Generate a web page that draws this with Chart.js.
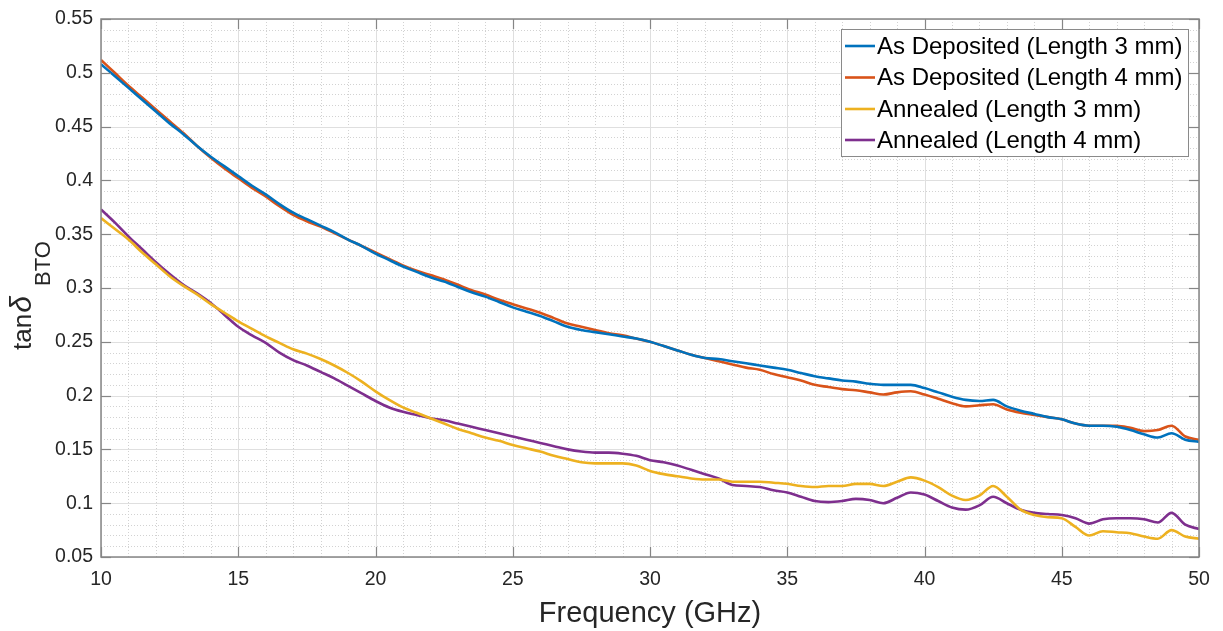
<!DOCTYPE html>
<html>
<head>
<meta charset="utf-8">
<script src="https://cdn.jsdelivr.net/npm/chart.js@4/dist/chart.umd.min.js"></script>
<style>
  html, body { margin: 0; padding: 0; background: #ffffff; }
  #wrap { width: 1223px; height: 631px; }
</style>
</head>
<body>
<div id="wrap"><canvas id="c" width="1223" height="631"></canvas></div>
<script>
// ---------- DATA ----------
const freqGHz = [10,10.5,11,11.5,12,12.5,13,13.5,14,14.5,15,15.5,16,16.5,17,17.5,18,18.5,19,19.5,20,20.5,21,21.5,22,22.5,23,23.5,24,24.5,25,25.5,26,26.5,27,27.5,28,28.5,29,29.5,30,30.5,31,31.5,32,32.5,33,33.5,34,34.5,35,35.5,36,36.5,37,37.5,38,38.5,39,39.5,40,40.5,41,41.5,42,42.5,43,43.5,44,44.5,45,45.5,46,46.5,47,47.5,48,48.5,49,49.5,50];

const asDep3mm = [0.508,0.497,0.486,0.475,0.464,0.453,0.443,0.432,0.422,0.413,0.404,0.395,0.387,0.378,0.370,0.364,0.358,0.352,0.345,0.339,0.332,0.326,0.320,0.315,0.310,0.306,0.301,0.296,0.292,0.287,0.282,0.278,0.274,0.269,0.264,0.261,0.259,0.257,0.255,0.253,0.250,0.246,0.242,0.238,0.235,0.234,0.232,0.230,0.228,0.226,0.224,0.221,0.218,0.216,0.214,0.213,0.211,0.210,0.210,0.210,0.207,0.203,0.199,0.196,0.195,0.196,0.190,0.186,0.183,0.180,0.178,0.174,0.172,0.172,0.171,0.168,0.164,0.161,0.165,0.159,0.157];

const asDep4mm = [0.512,0.500,0.488,0.477,0.466,0.455,0.444,0.432,0.421,0.411,0.402,0.393,0.385,0.376,0.368,0.362,0.357,0.351,0.345,0.339,0.333,0.327,0.321,0.316,0.312,0.308,0.303,0.298,0.294,0.289,0.285,0.281,0.277,0.272,0.267,0.264,0.261,0.258,0.256,0.253,0.250,0.246,0.242,0.238,0.235,0.232,0.229,0.226,0.224,0.220,0.217,0.214,0.210,0.208,0.206,0.205,0.203,0.201,0.203,0.204,0.201,0.197,0.193,0.190,0.191,0.192,0.187,0.184,0.182,0.180,0.178,0.174,0.172,0.172,0.172,0.170,0.167,0.168,0.172,0.162,0.159];

const annealed3mm = [0.365,0.355,0.345,0.333,0.322,0.311,0.302,0.294,0.285,0.277,0.269,0.262,0.255,0.249,0.243,0.239,0.234,0.228,0.221,0.213,0.204,0.196,0.189,0.184,0.179,0.174,0.169,0.165,0.161,0.158,0.154,0.151,0.148,0.144,0.141,0.138,0.137,0.137,0.137,0.135,0.130,0.127,0.125,0.123,0.122,0.122,0.120,0.120,0.120,0.119,0.118,0.116,0.115,0.116,0.116,0.118,0.118,0.116,0.120,0.124,0.121,0.115,0.107,0.103,0.107,0.116,0.106,0.094,0.089,0.087,0.086,0.078,0.070,0.074,0.073,0.072,0.069,0.067,0.075,0.069,0.067];

const annealed4mm = [0.373,0.361,0.348,0.336,0.324,0.313,0.303,0.295,0.286,0.275,0.264,0.256,0.249,0.240,0.233,0.228,0.222,0.216,0.209,0.202,0.195,0.189,0.185,0.182,0.179,0.177,0.174,0.171,0.168,0.165,0.162,0.159,0.156,0.153,0.150,0.148,0.147,0.147,0.146,0.144,0.140,0.138,0.135,0.131,0.127,0.123,0.117,0.116,0.115,0.112,0.110,0.106,0.102,0.101,0.102,0.104,0.103,0.100,0.105,0.110,0.108,0.102,0.096,0.094,0.098,0.106,0.100,0.094,0.091,0.090,0.089,0.086,0.081,0.085,0.086,0.086,0.085,0.082,0.091,0.080,0.076];

const seriesLabels = ['As Deposited (Length 3 mm)','As Deposited (Length 4 mm)','Annealed (Length 3 mm)','Annealed (Length 4 mm)'];
const seriesValues = [asDep3mm, asDep4mm, annealed3mm, annealed4mm];
const seriesColors = ['#0072BD','#D95319','#EDB120','#7E2F8E'];

const xTicksMajor = [10,15,20,25,30,35,40,45,50];
const yTicksMajor = [0.05,0.1,0.15,0.2,0.25,0.3,0.35,0.4,0.45,0.5,0.55];

// ---------- STYLE ----------
const FONT = "'Liberation Sans', Arial, Helvetica, sans-serif";
const TEXT_COLOR = '#262626';
const AXIS_COLOR = '#868686';

const datasets = seriesValues.map((vals, i) => ({
  label: seriesLabels[i],
  data: freqGHz.map((f, j) => ({ x: f, y: vals[j] })),
  borderColor: seriesColors[i],
  backgroundColor: seriesColors[i],
  borderWidth: 2.6,
  pointRadius: 0,
  cubicInterpolationMode: 'monotone',
  fill: false
}));

const matlabAxes = {
  id: 'matlabAxes',
  beforeDatasetsDraw(chart) {
    const { ctx, chartArea: a, scales: { x, y } } = chart;
    ctx.save();
    ctx.lineWidth = 1;
    ctx.strokeStyle = '#d2d2d2';
    ctx.setLineDash([1, 2]);
    for (let f = 11; f < 50; f++) {
      if (f % 5 === 0) continue;
      const px = Math.round(x.getPixelForValue(f)) + 0.5;
      ctx.beginPath(); ctx.moveTo(px, a.top); ctx.lineTo(px, a.bottom); ctx.stroke();
    }
    for (let k = 6; k < 55; k++) {
      if (k % 5 === 0) continue;
      const py = Math.round(y.getPixelForValue(k / 100)) + 0.5;
      ctx.beginPath(); ctx.moveTo(a.left, py); ctx.lineTo(a.right, py); ctx.stroke();
    }
    ctx.setLineDash([]);
    ctx.strokeStyle = '#dfdfdf';
    xTicksMajor.forEach(f => {
      const px = Math.round(x.getPixelForValue(f)) + 0.5;
      ctx.beginPath(); ctx.moveTo(px, a.top); ctx.lineTo(px, a.bottom); ctx.stroke();
    });
    yTicksMajor.forEach(v => {
      const py = Math.round(y.getPixelForValue(v)) + 0.5;
      ctx.beginPath(); ctx.moveTo(a.left, py); ctx.lineTo(a.right, py); ctx.stroke();
    });
    ctx.restore();
  },
  afterDatasetsDraw(chart) {
    const { ctx, chartArea: a, scales: { x, y } } = chart;
    ctx.save();
    ctx.strokeStyle = AXIS_COLOR;
    ctx.lineWidth = 1.2;
    ctx.setLineDash([]);
    const L = 10;
    xTicksMajor.forEach(f => {
      const px = Math.round(x.getPixelForValue(f)) + 0.5;
      ctx.beginPath(); ctx.moveTo(px, a.bottom); ctx.lineTo(px, a.bottom - L); ctx.stroke();
      ctx.beginPath(); ctx.moveTo(px, a.top); ctx.lineTo(px, a.top + L); ctx.stroke();
    });
    yTicksMajor.forEach(v => {
      const py = Math.round(y.getPixelForValue(v)) + 0.5;
      ctx.beginPath(); ctx.moveTo(a.left, py); ctx.lineTo(a.left + L, py); ctx.stroke();
      ctx.beginPath(); ctx.moveTo(a.right, py); ctx.lineTo(a.right - L, py); ctx.stroke();
    });
    ctx.lineWidth = 1.5;
    ctx.strokeRect(a.left, a.top, a.right - a.left, a.bottom - a.top);
    ctx.restore();
  },
  afterDraw(chart) {
    const { ctx } = chart;
    ctx.save();
    const bx = 841.5, by = 29.5, bw = 347, bh = 127;
    ctx.fillStyle = '#ffffff';
    ctx.fillRect(bx, by, bw, bh);
    ctx.strokeStyle = '#8a8a8a';
    ctx.lineWidth = 1;
    ctx.strokeRect(bx, by, bw, bh);
    ctx.font = '24px ' + FONT;
    ctx.textBaseline = 'middle';
    ctx.textAlign = 'left';
    const rowY = [46, 77.5, 109, 140];
    seriesLabels.forEach((lab, i) => {
      ctx.strokeStyle = seriesColors[i];
      ctx.lineWidth = 2.6;
      ctx.beginPath(); ctx.moveTo(845, rowY[i]); ctx.lineTo(875, rowY[i]); ctx.stroke();
      ctx.fillStyle = '#000000';
      ctx.fillText(lab, 877, rowY[i] + 1);
    });
    ctx.translate(31, 350);
    ctx.rotate(-Math.PI / 2);
    ctx.fillStyle = TEXT_COLOR;
    ctx.textBaseline = 'alphabetic';
    ctx.font = '26px ' + FONT;
    ctx.fillText('tan', 0, 0);
    const wTan = ctx.measureText('tan').width;
    ctx.font = 'italic 30px ' + FONT;
    ctx.fillText('δ', wTan + 1, 0);
    const wD = ctx.measureText('δ').width;
    ctx.font = '22px ' + FONT;
    ctx.fillText('BTO', Math.max(wTan + wD + 3, 64), 19);
    ctx.restore();
  }
};

new Chart(document.getElementById('c'), {
  type: 'line',
  data: { datasets },
  plugins: [matlabAxes],
  options: {
    responsive: false,
    animation: false,
    events: [],
    layout: { padding: { left: 0, top: 19, right: 24, bottom: 0 } },
    plugins: {
      legend: { display: false },
      tooltip: { enabled: false },
      title: { display: false }
    },
    scales: {
      x: {
        type: 'linear',
        min: 10, max: 50,
        grid: { display: false },
        border: { display: false },
        afterFit(s) { s.height = 74; },
        afterBuildTicks(s) { s.ticks = xTicksMajor.map(v => ({ value: v })); },
        ticks: {
          autoSkip: false, maxRotation: 0, padding: 3,
          color: TEXT_COLOR,
          font: { family: FONT, size: 19.5 },
          callback: v => String(v)
        },
        title: {
          display: true, text: 'Frequency (GHz)',
          color: TEXT_COLOR,
          font: { family: FONT, size: 29 },
          padding: { top: 0, bottom: 0 }
        }
      },
      y: {
        type: 'linear',
        min: 0.05, max: 0.55,
        grid: { display: false },
        border: { display: false },
        afterFit(s) { s.width = 101; },
        afterBuildTicks(s) { s.ticks = yTicksMajor.map(v => ({ value: v })); },
        ticks: {
          autoSkip: false, padding: 0,
          color: TEXT_COLOR,
          font: { family: FONT, size: 19.5 },
          callback: v => String(parseFloat(Number(v).toFixed(2)))
        }
      }
    }
  }
});
</script>
</body>
</html>
